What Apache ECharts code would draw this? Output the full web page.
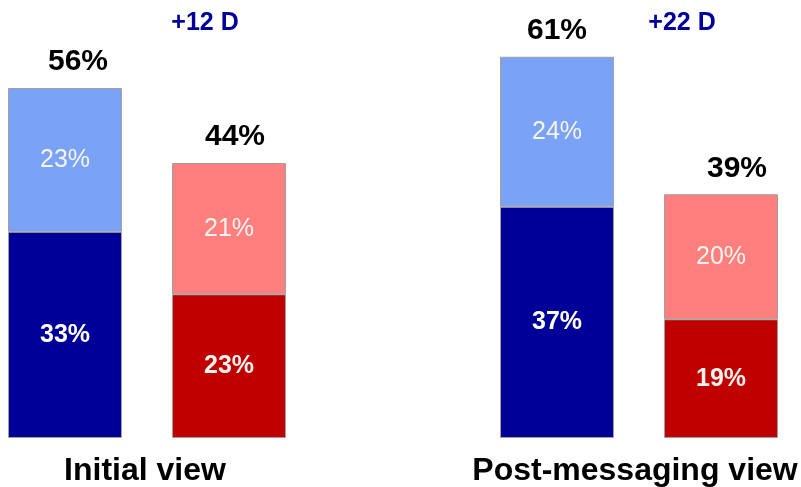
<!DOCTYPE html>
<html>
<head>
<meta charset="utf-8">
<script src="https://cdn.jsdelivr.net/npm/echarts@6/dist/echarts.min.js"></script>
<style>html,body{margin:0;padding:0;background:#fff;}#c{width:801px;height:487px;}</style>
</head>
<body>
<div id="c"></div>
<script>
// Categories (slot 2 is an empty spacer between the two groups)
var categories = ['Initial D', 'Initial R', '', 'Post D', 'Post R'];
var groupLabels = ['Initial view', 'Post-messaging view'];
var marginLabels = ['+12 D', '+22 D'];
// Series values (%)
var demBase  = [33, '-', '-', 37, '-'];
var demLean  = [23, '-', '-', 24, '-'];
var repBase  = ['-', 23, '-', '-', 19];
var repLean  = ['-', 21, '-', '-', 20];
var totals   = [56, 44, '-', 61, 39];

var chart = echarts.init(document.getElementById('c'));
var font = 'Liberation Sans, Arial, sans-serif';
var labelOffsets = [[13, 0], [6, 0], [0, 0], [0, 0], [16, 0]];

function seg(name, data, color, bold, labelColor) {
  return {
    name: name, type: 'bar', stack: 'all', barWidth: 114, data: data, clip: false,
    itemStyle: { color: color, borderColor: '#a0a0a0', borderWidth: 1 },
    label: {
      show: true, position: 'inside', color: labelColor,
      fontFamily: font, fontSize: 25, fontWeight: bold ? 'bold' : 'normal',
      formatter: function (p) { return p.value + '%'; }
    },
    silent: true
  };
}

chart.setOption({
  animation: false,
  grid: { left: 65, right: 80, top: 0.5, bottom: 49 },
  xAxis: { type: 'category', data: categories, boundaryGap: false, show: false },
  yAxis: { type: 'value', min: 0, max: 70, show: false },
  series: [
    seg('Dem base', demBase, '#000099', true, '#ffffff'),
    seg('Dem lean', demLean, '#7aa2f6', false, '#f5f5ee'),
    seg('Rep base', repBase, '#c00000', true, '#fbf3ee'),
    seg('Rep lean', repLean, '#ff7f7f', false, '#f5f5ee'),
    {
      name: 'Total', type: 'scatter', symbolSize: 0, clip: false,
      data: totals.map(function (v, i) {
        return { value: v, label: { offset: labelOffsets[i] } };
      }),
      label: {
        show: true, position: 'top', distance: 11, color: '#000000',
        fontFamily: font, fontSize: 30, fontWeight: 'bold',
        formatter: function (p) { return p.value + '%'; }
      },
      itemStyle: { opacity: 1 },
      silent: true
    }
  ]
});

function px(i) { return chart.convertToPixel({ xAxisIndex: 0 }, i); }
var g1 = (px(0) + px(1)) / 2, g2 = (px(3) + px(4)) / 2;
chart.setOption({
  graphic: [
    { type: 'text', x: g1 - 2, y: 471, style: { text: groupLabels[0], fill: '#000', font: 'bold 32px ' + font, textAlign: 'center', textVerticalAlign: 'middle' } },
    { type: 'text', x: g2 - 4, y: 471, style: { text: groupLabels[1], fill: '#000', font: 'bold 32px ' + font, textAlign: 'center', textVerticalAlign: 'middle' } },
    { type: 'text', x: px(1) - 24, y: 23, style: { text: marginLabels[0], fill: '#00009a', font: 'bold 25px ' + font, textAlign: 'center', textVerticalAlign: 'middle' } },
    { type: 'text', x: px(4) - 39, y: 23, style: { text: marginLabels[1], fill: '#00009a', font: 'bold 25px ' + font, textAlign: 'center', textVerticalAlign: 'middle' } }
  ]
});
</script>
</body>
</html>
